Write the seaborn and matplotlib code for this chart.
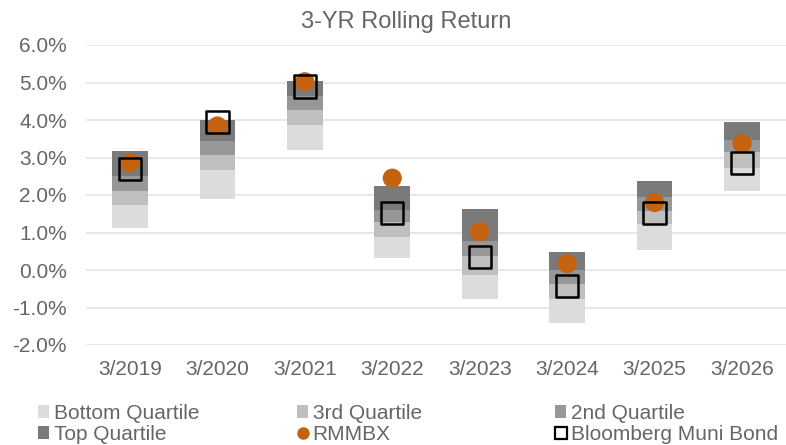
import matplotlib
matplotlib.use("Agg")
import matplotlib.pyplot as plt
import pandas as pd
import seaborn as sns
from matplotlib.lines import Line2D
from matplotlib.patches import Patch

years = ["3/2019", "3/2020", "3/2021", "3/2022", "3/2023", "3/2024", "3/2025", "3/2026"]
# quartile band edges (%): bottom of bottom quartile, then upper edge of each band
bottom_low = [1.13, 1.90, 3.19, 0.33, -0.76, -1.40, 0.53, 2.12]
bottom_q_top = [1.73, 2.68, 3.87, 0.88, -0.12, -0.78, 1.23, 2.71]
third_q_top = [2.12, 3.06, 4.26, 1.27, 0.37, -0.37, 1.57, 3.16]
second_q_top = [2.50, 3.44, 4.64, 1.60, 0.78, 0.00, 1.94, 3.47]
top_q_top = [3.17, 4.00, 5.04, 2.23, 1.63, 0.47, 2.37, 3.94]
rmmbx = [2.86, 3.84, 5.02, 2.45, 1.02, 0.17, 1.80, 3.37]
muni = [2.70, 3.94, 4.89, 1.52, 0.34, -0.43, 1.52, 2.86]

bands = ["Bottom Quartile", "3rd Quartile", "2nd Quartile", "Top Quartile"]
band_colors = ["#dcdcdc", "#bfbfbf", "#979797", "#7a7a7a"]
orange = "#c5620f"
text_gray = "#666666"


def main() -> None:
    sns.set_style("white")
    plt.rcParams["font.family"] = ["Liberation Sans", "DejaVu Sans"]

    edges = [bottom_low, bottom_q_top, third_q_top, second_q_top, top_q_top]
    df = pd.DataFrame({"year": years, "rmmbx": rmmbx, "muni": muni})
    df["pos"] = range(len(years))

    fig = plt.figure(figsize=(7.86, 4.45), dpi=100)
    ax = fig.add_axes([86.3 / 786, 100 / 445, 699.4 / 786, 300 / 445])

    width = 0.41
    for i, (name, color) in enumerate(zip(bands, band_colors)):
        lo = pd.Series(edges[i])
        hi = pd.Series(edges[i + 1])
        ax.bar(df["pos"], hi - lo, bottom=lo, width=width, color=color,
               edgecolor="none", zorder=2)

    sns.scatterplot(data=df, x="pos", y="rmmbx", ax=ax, color=orange, s=190,
                    marker="o", edgecolor="none", zorder=4, legend=False)
    sns.scatterplot(data=df, x="pos", y="muni", ax=ax, s=260, marker="s",
                    facecolor="none", edgecolor="black", linewidth=1.8,
                    zorder=5, legend=False)

    ax.set_xlim(-0.5, len(years) - 0.5)
    ax.set_ylim(-2.0, 6.0)
    ax.set_yticks([-2, -1, 0, 1, 2, 3, 4, 5, 6])
    ax.set_yticklabels([f"{v:.1f}%" for v in ax.get_yticks()])
    ax.set_xticks(df["pos"])
    ax.set_xticklabels(years)
    ax.set_xlabel("")
    ax.set_ylabel("")
    ax.yaxis.grid(True, color="#e6e6e6", linewidth=1.3, zorder=0)
    ax.set_axisbelow(True)
    sns.despine(ax=ax, left=True, bottom=True)
    ax.tick_params(axis="both", length=0, labelsize=15, colors=text_gray)
    ax.tick_params(axis="x", pad=11)
    ax.tick_params(axis="y", pad=14)

    fig.text(406 / 786, 1 - 22 / 445, "3-YR Rolling Return", ha="center",
             va="center", fontsize=17, color=text_gray)

    h = {name: Patch(facecolor=c, edgecolor="none") for name, c in zip(bands, band_colors)}
    h_r = Line2D([], [], marker="o", color=orange, linestyle="none", markersize=8)
    h_m = Line2D([], [], marker="s", markerfacecolor="white", markeredgecolor="black",
                 linestyle="none", markersize=8, markeredgewidth=1.6)
    columns = [
        (38, [h["Bottom Quartile"], h["Top Quartile"]], ["Bottom Quartile", "Top Quartile"]),
        (297, [h["3rd Quartile"], h_r], ["3rd Quartile", "RMMBX"]),
        (555, [h["2nd Quartile"], h_m], ["2nd Quartile", "Bloomberg Muni Bond"]),
    ]
    for x0, hs, ls in columns:
        leg = fig.legend(hs, ls, ncol=1, loc="upper left",
                         bbox_to_anchor=(x0 / 786, 1 - 404 / 445), frameon=False,
                         fontsize=15, handlelength=0.55, handleheight=0.55,
                         handletextpad=0.2, labelspacing=0.1, borderpad=0,
                         borderaxespad=0)
        for t in leg.get_texts():
            t.set_color(text_gray)

    fig.savefig("out.png", dpi=100)
    plt.close(fig)


if __name__ == "__main__":
    main()
